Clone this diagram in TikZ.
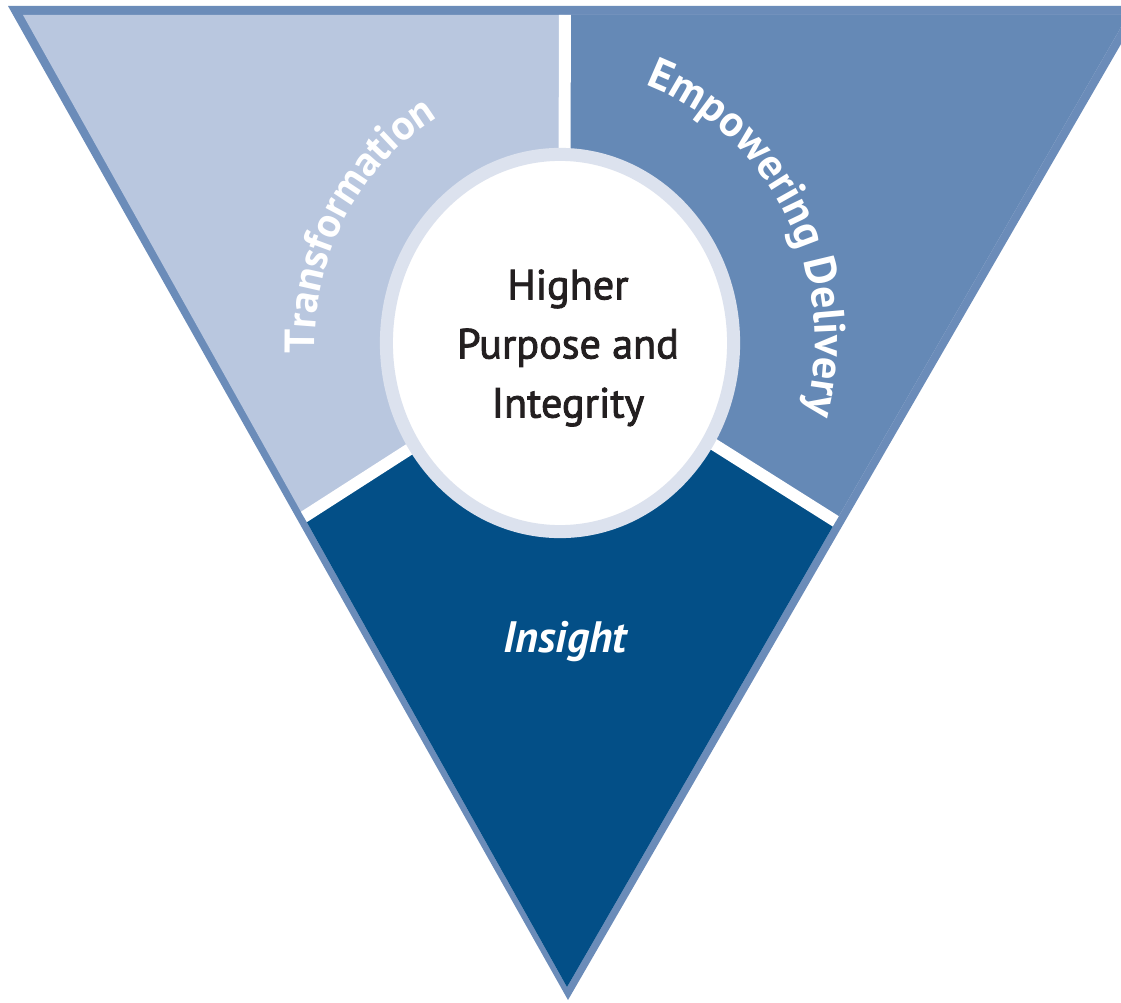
\documentclass[tikz,border=0pt]{standalone}
\usepackage{fontspec}
\setmainfont{PT Sans}
\newfontfamily\corefont[FakeBold=2]{PT Sans}
\usetikzlibrary{decorations.text,shapes.geometric}
\definecolor{rimblue}{HTML}{6B8CB9}
\definecolor{paleblue}{HTML}{B9C7DF}
\definecolor{midblue}{HTML}{6589B6}
\definecolor{deepblue}{HTML}{034F87}
\definecolor{ringgrey}{HTML}{DCE2EE}
\definecolor{inkgrey}{HTML}{231F20}
\tikzset{
  gapline/.style={white, line width=3.4pt},
  arclabel/.style={decorate, decoration={text along path, text align=center}},
  corering/.style={ellipse, fill=white, draw=ringgrey, line width=3.7pt,
                   minimum width=3.47cm, minimum height=3.77cm, inner sep=0pt}
}
\begin{document}
\begin{tikzpicture}[x=0.01cm, y=0.01cm]

    \useasboundingbox (0,0) rectangle (1121,1002);
    \clip (0,0) rectangle (1121,1002);

    \fill[rimblue] (8,996) -- (1143,996) -- (568,2) -- cycle;

    \begin{scope}
        \clip (23,987) -- (1128,987) -- (567,15) -- cycle;
        \coordinate (hub) at (564,652);
        \fill[paleblue] (0,0) rectangle (1200,1002);
        \fill[midblue] (hub) -- (565,1002) -- (1200,1002) -- (1200,251) -- cycle;
        \fill[deepblue] (hub) -- (0,290) -- (0,0) -- (1200,0) -- (1200,251) -- cycle;
        \draw[gapline] (hub) -- (565,1002);
        \draw[gapline] (hub) -- (0,290);
        \draw[gapline] (hub) -- (1200,251);
    \end{scope}

    \node[corering] (core) at (560,659) {};
    \node[align=center, text=inkgrey, font=\corefont\fontsize{12}{16.8}\selectfont] (purpose) at (568,654)
        {Higher\\Purpose and\\Integrity};

    \path[arclabel, decoration={text={|\upshape\bfseries\fontsize{12}{14}\selectfont\color{white}|Transformation}}]
        (core.center) ++(186:245 and 260) arc[start angle=186, end angle=116, x radius=245, y radius=260];
    \path[arclabel, decoration={text={|\upshape\bfseries\fontsize{12.5}{14}\selectfont\color{white}|Empowering Delivery}}]
        (core.center) ++(80:255 and 274) arc[start angle=80, end angle=-24, x radius=255, y radius=274];

    \node[text=white, font=\bfseries\itshape\fontsize{12.5}{15}\selectfont] (insight) at (565,360) {Insight};

\end{tikzpicture}
\end{document}
